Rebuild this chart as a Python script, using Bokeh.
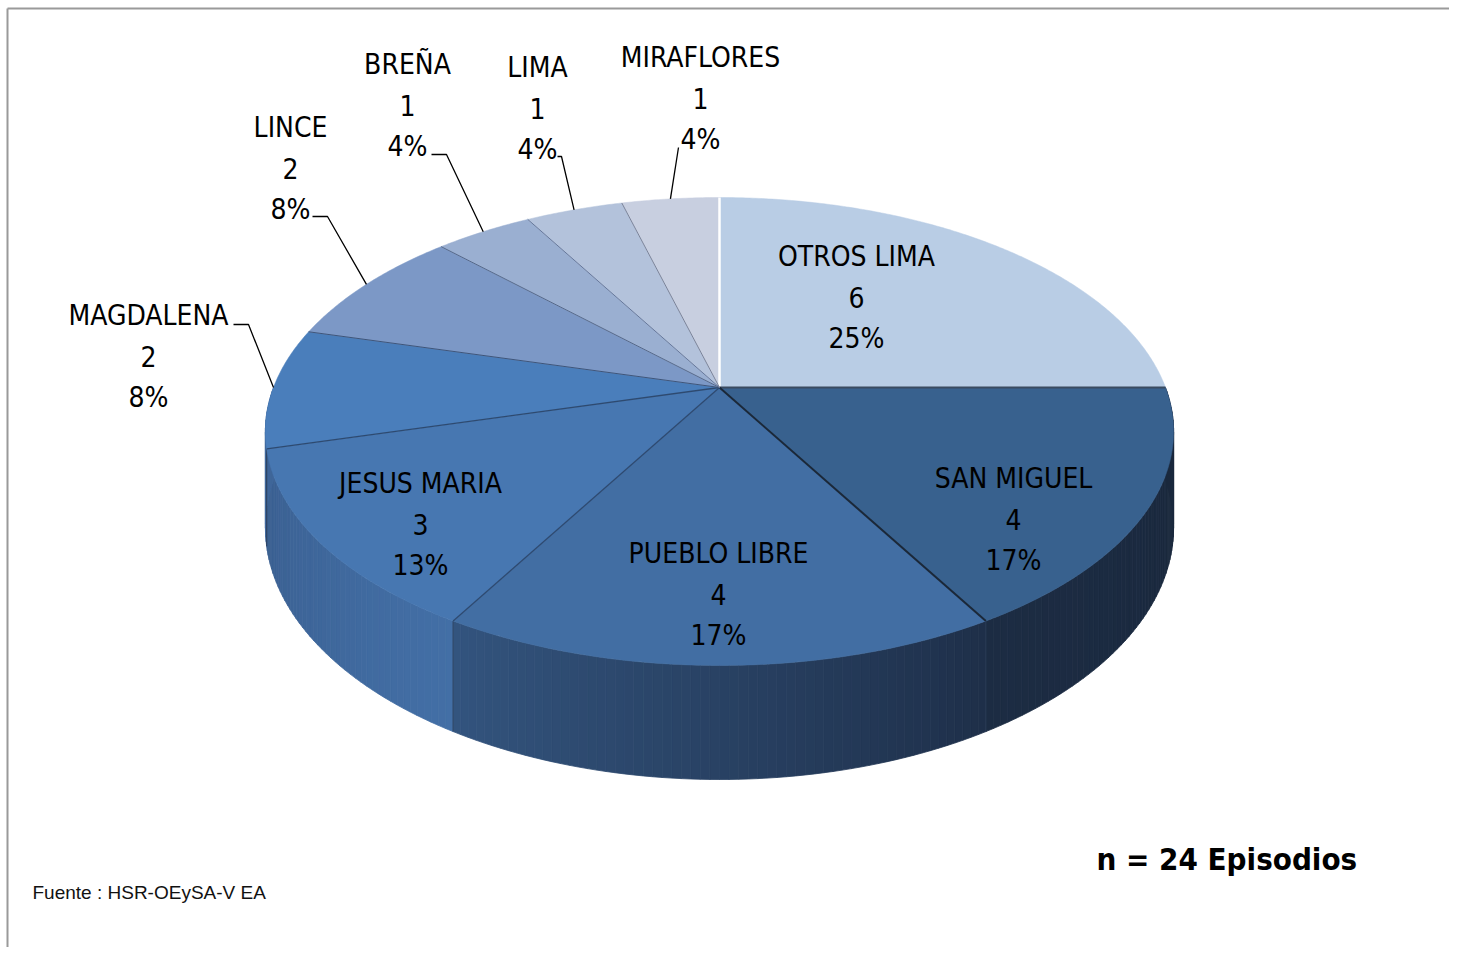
import numpy as np
from bokeh.plotting import figure
from bokeh.models import Range1d
from bokeh.core.properties import value
from bokeh.embed import file_html
from bokeh.resources import INLINE

# ---------------- data ----------------
names = ["OTROS LIMA", "SAN MIGUEL", "PUEBLO LIBRE", "JESUS MARIA", "MAGDALENA",
         "LINCE", "BREÑA", "LIMA", "MIRAFLORES"]
counts = [6, 4, 4, 3, 2, 2, 1, 1, 1]
title_text = "n  =  24 Episodios"
source_text = "Fuente  : HSR-OEySA-V EA"

# ---------------- styles / layout ----------------
top_colors = ["#B9CDE5", "#38618E", "#426EA3", "#4777B1", "#4A7EBB",
              "#7C98C6", "#9AAFD1", "#B3C2DB", "#C8CFE0"]
side_from = ["#9DB0C8", "#1A283C", "#1E2F49", "#436FA6", "#41699F",
             "#6A82A8", "#8396B4", "#98A6BC", "#AAB0BF"]
side_to = ["#9DB0C8", "#1C2C43", "#33547E", "#3A5F90", "#3E6597",
           "#6A82A8", "#8396B4", "#98A6BC", "#AAB0BF"]
edge_colors = ["#FFFFFF", "#3A4B60", "#1B2838", "#2E4A70", "#2E4A70",
               "#3E557A", "#56698A", "#66779A", "#7A8399"]
edge_widths = [2.5, 2.0, 2.0, 1.3, 1.3, 1.0, 1.0, 1.0, 1.0]
# label centre (middle line) for each slice
label_pos = [(856, 297), (1013, 519), (718, 594), (420, 524), (148, 356),
             (290, 168), (407, 105), (537, 108), (700, 98)]
# leader line elbows (None = inside label)
leaders = [None, None, None, None,
           [(233, 324), (248, 324)],
           [(312, 216), (327, 216)],
           [(431, 154), (446, 154)],
           [(557, 156), (561, 156)],
           [(678, 147)]]
LINE_GAP = 41
FONT = "'Liberation Sans Narrow', 'DejaVu Sans Condensed', 'Liberation Sans', sans-serif"

# projection of a tilted pie with perspective (screen pixels)
CX, CY, A, B, K, D = 719.0, 387.0, 446.0, 225.7, 0.188, 92.6


def proj(r, th_deg, z=0.0):
    th = np.radians(th_deg)
    u = r * np.sin(th)
    v = r * np.cos(th)
    w = 1 + K * v
    return CX + A * u / w, CY + (-B * v + D * z) / w


def hex2rgb(h):
    h = h.lstrip("#")
    return np.array([int(h[i:i + 2], 16) for i in (0, 2, 4)], dtype=float)


def mix(c1, c2, t):
    c = hex2rgb(c1) * (1 - t) + hex2rgb(c2) * t
    return "#%02x%02x%02x" % tuple(int(round(x)) for x in c)


total = sum(counts)
cum = np.concatenate([[0], np.cumsum(counts)])
starts = 360.0 * cum[:-1] / total
ends = 360.0 * cum[1:] / total
mids = (starts + ends) / 2

p = figure(width=1449, height=947, output_backend="svg", toolbar_location=None,
           x_range=Range1d(0, 1449), y_range=Range1d(947, 0), min_border=0)
p.axis.visible = False
p.grid.visible = False
p.outline_line_color = None
p.background_fill_color = "white"
p.border_fill_color = "white"

# frame of the chart area
p.line([7, 1449], [8, 8], line_color="#9A9A9A", line_width=2)
p.line([7, 7], [8, 947], line_color="#9A9A9A", line_width=2)

# ---------- side walls (front half only) ----------
sx, sy, sc = [], [], []
for i in range(len(counts)):
    a0, a1 = max(starts[i], 90.0), min(ends[i], 270.0)
    if a1 <= a0:
        continue
    n = max(2, int((a1 - a0) / 1.0))
    edges = np.linspace(a0, a1, n + 1)
    for j in range(n):
        ta, tb = edges[j], edges[j + 1]
        xa0, ya0 = proj(1, ta, 0)
        xb0, yb0 = proj(1, tb, 0)
        xa1, ya1 = proj(1, ta, 1)
        xb1, yb1 = proj(1, tb, 1)
        sx.append([xa0, xb0, xb1, xa1])
        sy.append([ya0, yb0, yb1, ya1])
        frac = ((ta + tb) / 2 - starts[i]) / (ends[i] - starts[i])
        sc.append(mix(side_from[i], side_to[i], frac))
p.patches(sx, sy, fill_color=sc, line_color=sc, line_width=0.8)

# vertical seams between side walls
for i in range(len(counts)):
    t = starts[i]
    if 100 < t < 260:
        x0, y0 = proj(1, t, 0)
        x1, y1 = proj(1, t, 1)
        p.line([x0, x1], [y0, y1], line_color="#2A3B55", line_width=1.2, line_alpha=0.8)

# ---------- top faces ----------
tx, ty = [], []
for i in range(len(counts)):
    th = np.linspace(starts[i], ends[i], max(8, int(ends[i] - starts[i]) * 2))
    xs, ys = proj(1, th, 0)
    tx.append([CX] + list(xs))
    ty.append([CY] + list(ys))
p.patches(tx, ty, fill_color=top_colors, line_color=top_colors, line_width=0.5)

# slice boundaries on top face
for i in range(len(counts)):
    xe, ye = proj(1, starts[i], 0)
    p.line([CX, xe], [CY, ye], line_color=edge_colors[i], line_width=edge_widths[i])

# ---------- labels ----------
pcts = [int(100.0 * c / total + 0.5) for c in counts]
lx, ly, lt = [], [], []
for i in range(len(counts)):
    x, y = label_pos[i]
    for k, s in enumerate([names[i], str(counts[i]), "%d%%" % pcts[i]]):
        lx.append(x)
        ly.append(y + (k - 1) * LINE_GAP)
        lt.append(s)
p.text(x=lx, y=ly, text=lt, text_font=value(FONT), text_font_size="28px",
       text_align="center", text_baseline="middle", text_color="black")

# leader lines to the rim
for i in range(len(counts)):
    if leaders[i] is None:
        continue
    xr, yr = proj(1, mids[i], 0)
    xs = [pt[0] for pt in leaders[i]] + [xr]
    ys = [pt[1] for pt in leaders[i]] + [yr]
    p.line(xs, ys, line_color="black", line_width=1.3)

# ---------- annotation texts ----------
p.text(x=[1236], y=[858], text=[title_text], text_font=value(FONT), text_font_style="bold",
       text_font_size="31px", text_align="center", text_baseline="middle", text_color="black")
p.text(x=[32], y=[892], text=[source_text], text_font=value("Liberation Sans"),
       text_font_size="19px", text_align="left", text_baseline="middle", text_color="#111111")

open("out.html", "w").write(file_html(p, INLINE))
